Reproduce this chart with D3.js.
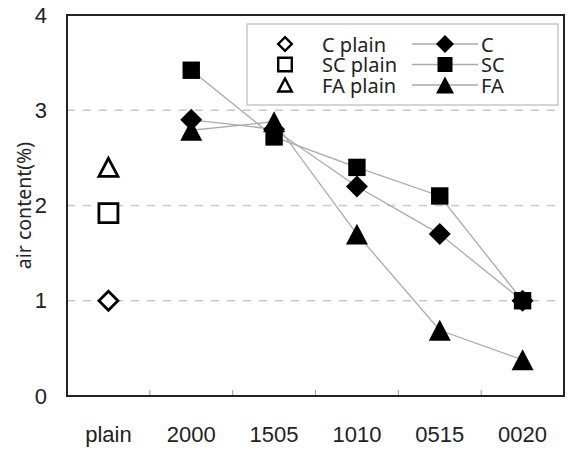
<!DOCTYPE html>
<html>
<head>
<meta charset="utf-8">
<script src="https://cdn.jsdelivr.net/npm/d3@7"></script>
<style>
  html, body { margin: 0; padding: 0; background: #fff; }
  svg { display: block; font-family: "Noto Sans", "Open Sans", sans-serif; }
</style>
</head>
<body>
<svg id="chart" width="568" height="450"></svg>
<script>
// Categories along the x axis
const categories = ["plain", "2000", "1505", "1010", "0515", "0020"];
const yTicks = [0, 1, 2, 3, 4];

// Plain mixes (single points in the "plain" column)
const plainNames = ["C plain", "SC plain", "FA plain"];
const plainValues = [1.0, 1.92, 2.4];

// Blended series across replacement ratios
const seriesNames = ["C", "SC", "FA"];
const mixCats = ["2000", "1505", "1010", "0515", "0020"];
const cValues  = [2.9, 2.8, 2.2, 1.7, 1.0];
const scValues = [3.42, 2.72, 2.4, 2.1, 1.0];
const faValues = [2.79, 2.88, 1.7, 0.69, 0.38];

const shapes = ["diamond", "square", "triangle"];

const svg = d3.select("#chart");
const margin = { left: 67, top: 15, right: 4, bottom: 54 };
const W = 568, H = 450;
const x = d3.scaleBand().domain(categories).range([margin.left, W - margin.right]);
const y = d3.scaleLinear().domain([0, 4]).range([H - margin.bottom, margin.top]);

// marker path centred at (0,0), s = half width
function shapePath(kind, s) {
  if (kind === "square") return `M${-s},${-s}H${s}V${s}H${-s}Z`;
  if (kind === "diamond") return `M0,${-s}L${s},0L0,${s}L${-s},0Z`;
  // triangle, centred on its bounding box
  const h = s * 1.9;
  return `M0,${-h / 2}L${s},${h / 2}L${-s},${h / 2}Z`;
}

// dashed gridlines
svg.append("g").selectAll("line")
  .data(yTicks.filter(d => d > 0 && d < 4))
  .join("line")
  .attr("x1", margin.left).attr("x2", W - margin.right)
  .attr("y1", d => y(d)).attr("y2", d => y(d))
  .attr("stroke", "#c8c8c8").attr("stroke-width", 1.3)
  .attr("stroke-dasharray", "8,8");

// x axis with short inward ticks at band boundaries
const xAxis = d3.axisBottom(x).tickSize(0).tickPadding(30);
const gx = svg.append("g").attr("transform", `translate(0,${y(0)})`).call(xAxis);
gx.select(".domain").remove();
gx.selectAll("text").attr("font-size", 22).attr("fill", "#222");
svg.append("g").selectAll("line")
  .data(categories.slice(1))
  .join("line")
  .attr("x1", d => x(d)).attr("x2", d => x(d))
  .attr("y1", y(0)).attr("y2", y(0) - 6)
  .attr("stroke", "#999").attr("stroke-width", 1);

// y axis labels
const yAxis = d3.axisLeft(y).tickValues(yTicks).tickSize(0).tickPadding(20).tickFormat(d3.format("d"));
const gy = svg.append("g").attr("transform", `translate(${margin.left},0)`).call(yAxis);
gy.select(".domain").remove();
gy.selectAll("text").attr("font-size", 22).attr("fill", "#222");

svg.append("text")
  .attr("transform", `translate(23,${(y(0) + y(4)) / 2}) rotate(-90)`)
  .attr("text-anchor", "middle").attr("dominant-baseline", "central")
  .attr("font-size", 19.5).attr("fill", "#222")
  .text("air content(%)");

// plot frame
svg.append("rect")
  .attr("x", margin.left).attr("y", margin.top)
  .attr("width", W - margin.right - margin.left)
  .attr("height", y(0) - margin.top)
  .attr("fill", "none").attr("stroke", "#222").attr("stroke-width", 2);

const cx = d => x(d) + x.bandwidth() / 2;
const seriesValues = [cValues, scValues, faValues];

// connecting lines
const line = d3.line().x((d, i) => cx(mixCats[i])).y(d => y(d));
seriesValues.forEach(vals => {
  svg.append("path").attr("d", line(vals))
    .attr("fill", "none").attr("stroke", "#aaa").attr("stroke-width", 1.3);
});

// filled markers
const sizes = { diamond: 11, square: 8.7, triangle: 11 };
seriesValues.forEach((vals, k) => {
  svg.append("g").selectAll("path")
    .data(vals).join("path")
    .attr("transform", (d, i) => `translate(${cx(mixCats[i])},${y(d)})`)
    .attr("d", shapePath(shapes[k], sizes[shapes[k]]))
    .attr("fill", "#000");
});

// open markers for plain mixes
const openSizes = { diamond: 9.5, square: 9.5, triangle: 9.5 };
plainValues.forEach((v, k) => {
  svg.append("path")
    .attr("transform", `translate(${cx("plain")},${y(v)})`)
    .attr("d", shapePath(shapes[k], openSizes[shapes[k]]))
    .attr("fill", "#fff").attr("stroke", "#000").attr("stroke-width", 2.8)
    .attr("stroke-linejoin", "miter");
});

// legend
const lg = svg.append("g");
lg.append("rect").attr("x", 247).attr("y", 24).attr("width", 311).attr("height", 81)
  .attr("fill", "#fff").attr("stroke", "#c8c8c8").attr("stroke-width", 1.5);
const rowY = [44, 64.5, 85];
plainNames.forEach((name, k) => {
  lg.append("path")
    .attr("transform", `translate(285,${rowY[k]})`)
    .attr("d", shapePath(shapes[k], 6.8))
    .attr("fill", "#fff").attr("stroke", "#000").attr("stroke-width", 2.4);
  lg.append("text").attr("x", 322).attr("y", rowY[k]).attr("dominant-baseline", "central")
    .attr("font-size", 20).attr("fill", "#222").text(name);
});
seriesNames.forEach((name, k) => {
  lg.append("line").attr("x1", 412).attr("x2", 478)
    .attr("y1", rowY[k]).attr("y2", rowY[k])
    .attr("stroke", "#aaa").attr("stroke-width", 1.3);
  lg.append("path")
    .attr("transform", `translate(445,${rowY[k]})`)
    .attr("d", shapePath(shapes[k], k === 1 ? 7.5 : 9))
    .attr("fill", "#000");
  lg.append("text").attr("x", 481).attr("y", rowY[k]).attr("dominant-baseline", "central")
    .attr("font-size", 20).attr("fill", "#222").text(name);
});
</script>
</body>
</html>
